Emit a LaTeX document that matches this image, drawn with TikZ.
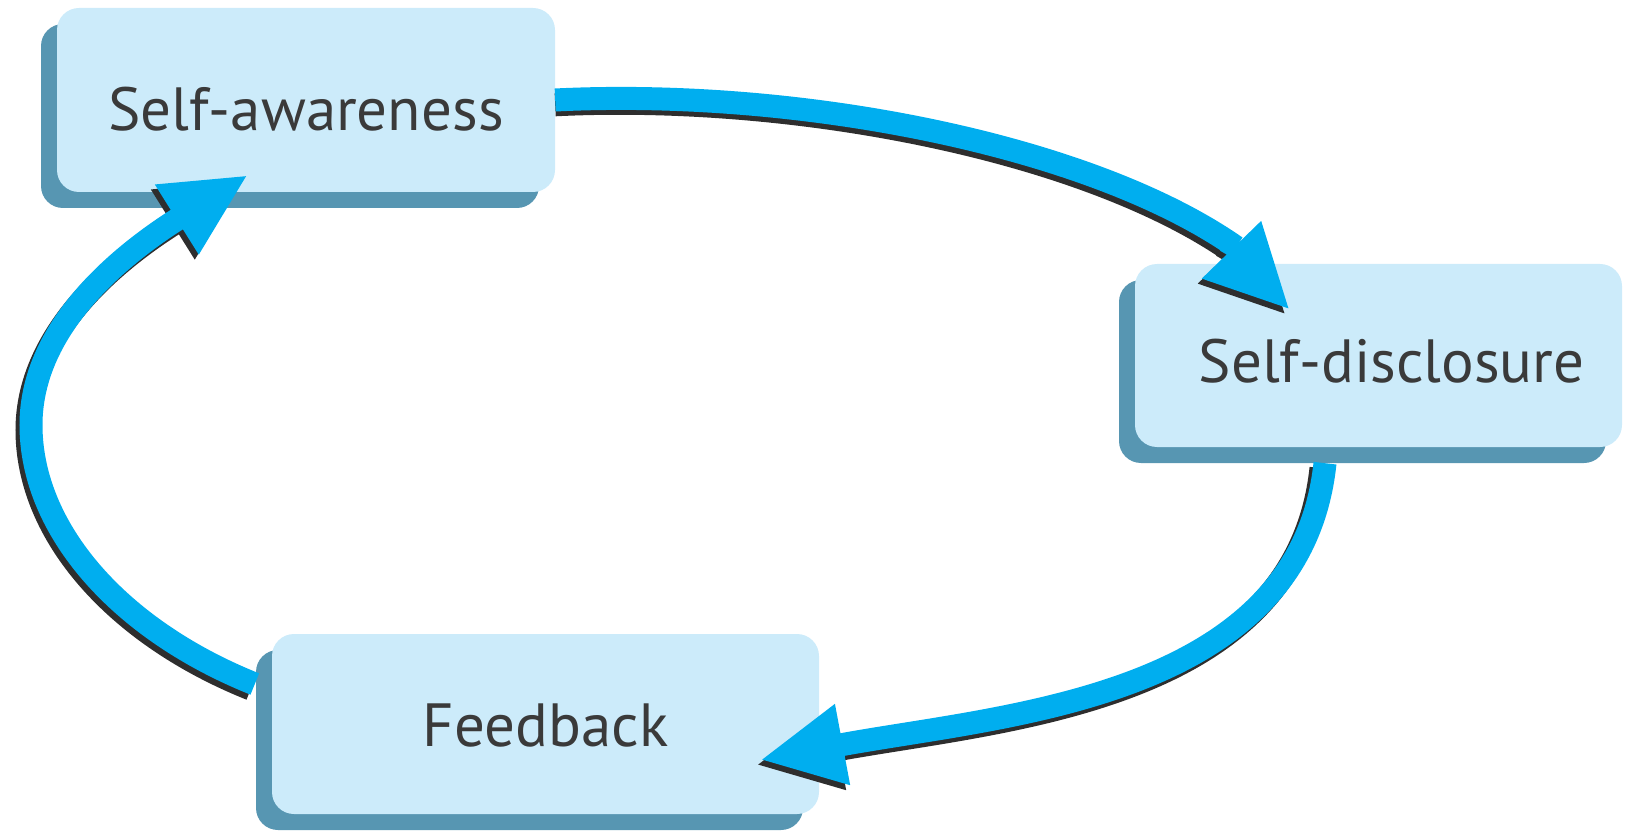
\documentclass[tikz,border=0pt]{standalone}
\usepackage{fontspec}
\setmainfont{PT Sans}
\usetikzlibrary{arrows.meta,bending,shadows}

\definecolor{boxfill}{HTML}{CCEBFA}
\definecolor{boxshade}{HTML}{5796B2}
\definecolor{flowblue}{HTML}{00AEEF}
\definecolor{flowshade}{HTML}{2E2E2E}
\definecolor{labeltext}{HTML}{3A3A3A}

\tikzset{
  stage/.style={rectangle, rounded corners=22pt, fill=boxfill, inner sep=0pt,
    text=labeltext, font=\fontsize{61}{70}\selectfont,
    general shadow={fill=boxshade, shadow xshift=-16pt, shadow yshift=-16pt}},
  flow/.style={line width=23pt},
  flowtip/.style={-{Triangle[length=84pt,width=76pt,#1]}},
  flowtip/.default=quick,
}

% the three curved arrows of the cycle: #1 colour, #2 extra option for the first one
\newcommand\cyclearrows[2]{%
  \draw[flow,flowtip=flex,#1,#2] (aware.east)
    .. controls (800,88) and (1090,145) .. (1236,247)
    .. controls (1261,264) and (1280,290) .. (tipD);
  \draw[flow,flowtip,#1] ([xshift=-53.5pt,yshift=-16pt]disc.south)
    .. controls (1300,700) and (1000,715) .. (tipF);
  \draw[flow,flowtip,#1] ([xshift=-17pt,yshift=40pt]feed.west)
    .. controls (120,630) and (31,530) .. (31,425)
    .. controls (31,325) and (125,252) .. (tipA);
}

\begin{document}
\begin{tikzpicture}[x=1pt,y=-1pt]
  \useasboundingbox (0,0) rectangle (1625,834);

  \node[stage, minimum width=498pt, minimum height=184pt,
        text height=62pt, text depth=0pt] (aware) at (306,100) {Self-awareness};
  \node[stage, minimum width=487pt, minimum height=183pt,
        text height=53pt, text depth=0pt] (disc) at (1378.5,355.5) {\hspace*{26pt}Self-disclosure};
  \node[stage, minimum width=547pt, minimum height=180pt,
        text height=44pt, text depth=0pt] (feed) at (545.5,724) {Feedback};

  \coordinate (tipD) at (1290,310);
  \coordinate (tipF) at (760,760);
  \coordinate (tipA) at (248,175);

  \begin{scope}[transform canvas={shift={(-4pt,-5pt)}}]
    \cyclearrows{draw=flowshade}{shorten <=4pt}
  \end{scope}
  \cyclearrows{draw=flowblue}{}
\end{tikzpicture}
\end{document}
